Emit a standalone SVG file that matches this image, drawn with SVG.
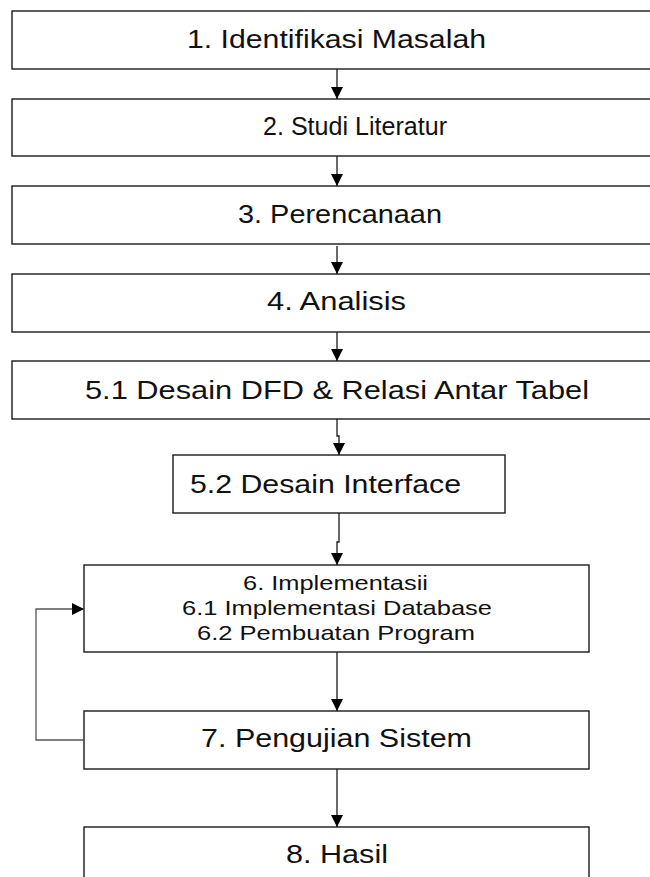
<svg xmlns="http://www.w3.org/2000/svg" width="650" height="877" viewBox="0 0 650 877">
<style>
.box{fill:#fff;stroke:#1a1a1a;stroke-width:1.4}
.t{font-family:"Liberation Sans",Arial,sans-serif;font-size:25px;fill:#111}
.s{font-family:"Liberation Sans",Arial,sans-serif;font-size:21px;fill:#111}
.c{fill:none;stroke:#1a1a1a;stroke-width:1.3}
.g{fill:none;stroke:#555;stroke-width:1.3}
</style>
<defs>
<marker id="ah" markerUnits="userSpaceOnUse" markerWidth="12" markerHeight="12" viewBox="0 0 12 12" refX="12" refY="6" orient="auto">
<path d="M0,0 L12,6 L0,12 Z" fill="#000"/>
</marker>
</defs>
<rect width="650" height="877" fill="#fff"/>
<g id="n1"><rect class="box" x="12" y="11" width="650" height="58"/><text class="t" x="187" y="48" textLength="299" lengthAdjust="spacingAndGlyphs">1. Identifikasi Masalah</text></g>
<g id="n2"><rect class="box" x="12" y="99" width="650" height="57"/><text class="t" x="263" y="135" textLength="184" lengthAdjust="spacingAndGlyphs">2. Studi Literatur</text></g>
<g id="n3"><rect class="box" x="12" y="186" width="650" height="58"/><text class="t" x="238" y="223" textLength="204" lengthAdjust="spacingAndGlyphs">3. Perencanaan</text></g>
<g id="n4"><rect class="box" x="12" y="274" width="650" height="58"/><text class="t" x="267" y="310" textLength="139" lengthAdjust="spacingAndGlyphs">4. Analisis</text></g>
<g id="n51"><rect class="box" x="12" y="361" width="650" height="58"/><text class="t" x="85" y="399" textLength="504" lengthAdjust="spacingAndGlyphs">5.1 Desain DFD &amp; Relasi Antar Tabel</text></g>
<g id="n52"><rect class="box" x="173" y="455" width="332" height="58"/><text class="t" x="190" y="493" textLength="271" lengthAdjust="spacingAndGlyphs">5.2 Desain Interface</text></g>
<g id="n6"><rect class="box" x="84" y="565" width="505" height="87"/>
<text class="s" x="243" y="590" textLength="185" lengthAdjust="spacingAndGlyphs">6. Implementasii</text>
<text class="s" x="182" y="615" textLength="310" lengthAdjust="spacingAndGlyphs">6.1 Implementasi Database</text>
<text class="s" x="197" y="640" textLength="278" lengthAdjust="spacingAndGlyphs">6.2 Pembuatan Program</text></g>
<g id="n7"><rect class="box" x="84" y="711" width="505" height="58"/><text class="t" x="201" y="747" textLength="271" lengthAdjust="spacingAndGlyphs">7. Pengujian Sistem</text></g>
<g id="n8"><rect class="box" x="84" y="827" width="505" height="60"/><text class="t" x="286" y="863" textLength="102" lengthAdjust="spacingAndGlyphs">8. Hasil</text></g>
<g id="connectors">
<path class="c" d="M337,69 V99" marker-end="url(#ah)"/>
<path class="c" d="M337,156 V186" marker-end="url(#ah)"/>
<path class="c" d="M337,246 V274" marker-end="url(#ah)"/>
<path class="c" d="M337,332 V361" marker-end="url(#ah)"/>
<path class="c" d="M337,419 V436 H339 V455" marker-end="url(#ah)"/>
<path class="c" d="M339,513 V542 H337 V565" marker-end="url(#ah)"/>
<path class="c" d="M337,652 V711" marker-end="url(#ah)"/>
<path class="c" d="M337,769 V827" marker-end="url(#ah)"/>
<path class="g" d="M84,740 H36 V609 H84" marker-end="url(#ah)"/>
</g>
</svg>
